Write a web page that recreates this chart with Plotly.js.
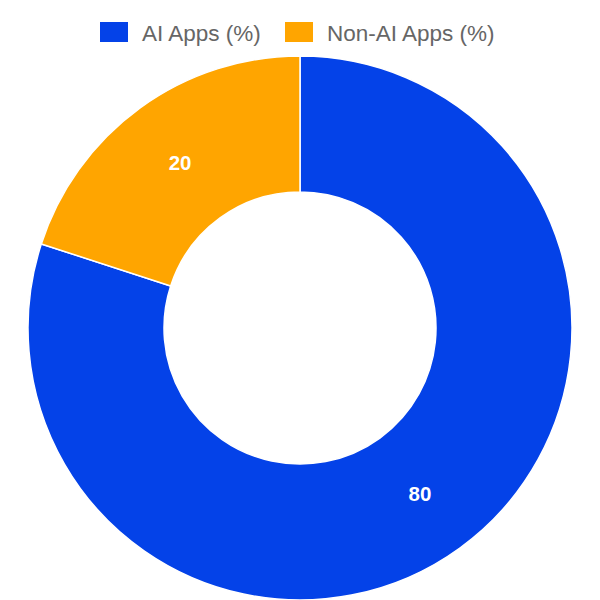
<!DOCTYPE html>
<html>
<head>
<meta charset="utf-8">
<script src="https://cdn.plot.ly/plotly-3.0.1.min.js"></script>
<style>html,body{margin:0;padding:0;background:#fff;}#chart{width:600px;height:600px;}</style>
</head>
<body>
<div id="chart"></div>
<script>
const categories = ["AI Apps (%)", "Non-AI Apps (%)"];
const values = [80, 20];
const colors = ["#0442E8", "#FFA500"];

const W = 600, H = 600, TOP = 56;
const plotH = H - TOP;
const px2x = p => p / W;
const py2y = p => (H - p) / plotH;

const trace = {
  type: "pie",
  labels: categories,
  values: values,
  hole: 0.5,
  sort: false,
  direction: "clockwise",
  rotation: 0,
  marker: { colors: colors, line: { color: "#ffffff", width: 1.5 } },
  textinfo: "value",
  textposition: "inside",
  insidetextorientation: "horizontal",
  textfont: { family: "Liberation Sans, Arial, sans-serif", size: 20.5, color: "#ffffff", weight: "bold" },
  hoverinfo: "label+value",
  showlegend: false
};

// custom legend (boxes + text), laid out to match the reference's wide swatches
const legendBoxLeft = [100, 285];
const shapes = categories.map((c, i) => ({
  type: "rect", xref: "paper", yref: "paper",
  x0: px2x(legendBoxLeft[i]), x1: px2x(legendBoxLeft[i] + 28),
  y0: py2y(42), y1: py2y(22),
  fillcolor: colors[i], line: { width: 0 }
}));
const annotations = categories.map((c, i) => ({
  text: c, xref: "paper", yref: "paper",
  x: px2x(legendBoxLeft[i] + 28 + 12), xanchor: "left",
  y: py2y(33), yanchor: "middle",
  showarrow: false,
  font: { family: "Liberation Sans, Arial, sans-serif", size: 22.5, color: "#666666" }
}));

const layout = {
  width: W,
  height: H,
  margin: { l: 0, r: 0, t: TOP, b: 0 },
  paper_bgcolor: "#ffffff",
  showlegend: false,
  shapes: shapes,
  annotations: annotations
};

Plotly.newPlot("chart", [trace], layout, { displayModeBar: false, staticPlot: true });
</script>
</body>
</html>
